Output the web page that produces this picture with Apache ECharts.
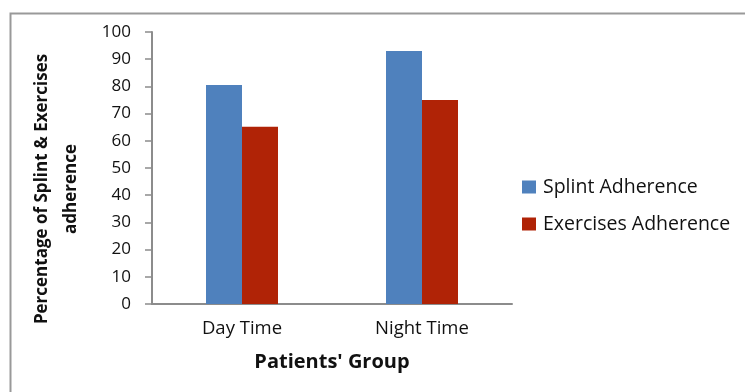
<!DOCTYPE html>
<html>
<head>
<meta charset="utf-8">
<script src="https://cdn.jsdelivr.net/npm/echarts@6/dist/echarts.min.js"></script>
<style>
  html, body { margin: 0; padding: 0; background: #fff; }
  #chart { width: 745px; height: 392px; }
</style>
</head>
<body>
<div id="chart"></div>
<script>
// Adherence percentages by patient group
const categories = ['Day Time', 'Night Time'];
const splintAdherence = [80.5, 93];
const exercisesAdherence = [65.2, 75];
const yTicks = [0, 10, 20, 30, 40, 50, 60, 70, 80, 90, 100];

const FONT = '"Open Sans", "Noto Sans", sans-serif';
const chart = echarts.init(document.getElementById('chart'), null, { renderer: 'canvas' });

chart.setOption({
  animation: false,
  backgroundColor: '#fff',
  textStyle: { fontFamily: FONT },
  grid: { left: 152, top: 32, width: 360, height: 272 },
  legend: {
    orient: 'vertical',
    left: 517,
    top: 172,
    itemWidth: 14,
    itemHeight: 13,
    itemGap: 17,
    icon: 'rect',
    textStyle: { fontFamily: FONT, fontSize: 19.5, color: '#111', padding: [0, 0, 0, 2] },
    data: ['Splint Adherence', 'Exercises Adherence']
  },
  xAxis: {
    type: 'category',
    data: categories,
    name: "Patients' Group",
    nameLocation: 'middle',
    nameGap: 48,
    nameTextStyle: { fontFamily: FONT, fontSize: 20, fontWeight: 'bold', color: '#111' },
    axisLine: { lineStyle: { color: '#8c8c8c', width: 2 } },
    axisTick: { show: false },
    axisLabel: { fontFamily: FONT, fontSize: 18.5, color: '#111', margin: 15 }
  },
  yAxis: {
    type: 'value',
    min: yTicks[0],
    max: yTicks[yTicks.length - 1],
    interval: 10,
    axisLine: { show: true, lineStyle: { color: '#8c8c8c', width: 2 } },
    axisTick: { show: true, length: 7, lineStyle: { color: '#8c8c8c', width: 1.5 } },
    splitLine: { show: false },
    axisLabel: { fontFamily: FONT, fontSize: 17, color: '#111', margin: 21 }
  },
  series: [
    {
      name: 'Splint Adherence',
      type: 'bar',
      data: splintAdherence,
      barWidth: 36,
      barGap: '0%',
      itemStyle: { color: '#4F81BD' }
    },
    {
      name: 'Exercises Adherence',
      type: 'bar',
      data: exercisesAdherence,
      barWidth: 36,
      itemStyle: { color: '#B02306' }
    }
  ],
  graphic: [
    {
      type: 'rect',
      left: 8,
      top: 11,
      shape: { width: 760, height: 400 },
      style: { fill: 'none', stroke: '#999', lineWidth: 2 },
      silent: true
    },
    {
      type: 'text',
      x: 57,
      y: 189,
      rotation: Math.PI / 2,
      style: {
        text: 'Percentage of Splint & Exercises\nadherence',
        font: 'bold 17px ' + FONT,
        fill: '#111',
        align: 'center',
        verticalAlign: 'middle',
        lineHeight: 29
      }
    }
  ]
});
</script>
</body>
</html>
